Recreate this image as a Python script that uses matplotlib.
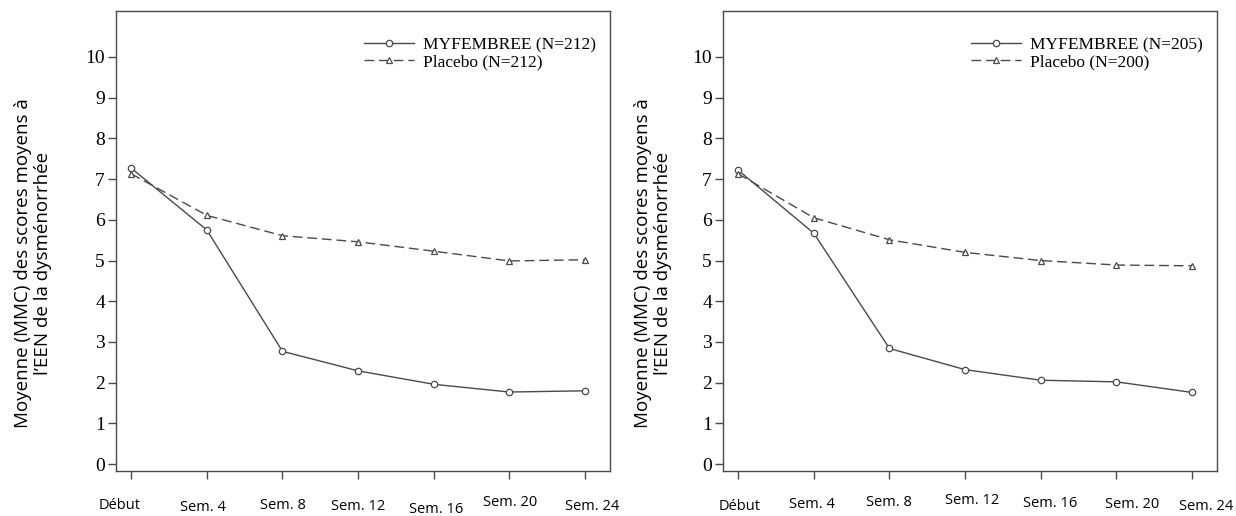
import numpy as np
import matplotlib
matplotlib.use("Agg")
import matplotlib.pyplot as plt
from matplotlib.transforms import offset_copy

# ─────────────────────────────────────────────
# Data
# ─────────────────────────────────────────────
visits = ["Début", "Sem. 4", "Sem. 8", "Sem. 12", "Sem. 16", "Sem. 20", "Sem. 24"]

left_myf = [7.27, 5.75, 2.77, 2.29, 1.96, 1.77, 1.80]
left_pbo = [7.13, 6.11, 5.61, 5.46, 5.23, 4.99, 5.02]
left_labels = ["MYFEMBREE (N=212)", "Placebo (N=212)"]

right_myf = [7.22, 5.67, 2.84, 2.32, 2.06, 2.02, 1.76]
right_pbo = [7.13, 6.05, 5.51, 5.20, 5.00, 4.89, 4.87]
right_labels = ["MYFEMBREE (N=205)", "Placebo (N=200)"]

ylabel = "Moyenne (MMC) des scores moyens à\nl\u2019EEN de la dysménorrhée"

# per-label nudges of the x tick texts (px, dy positive = lower), as in the scan
left_dx = [-12, -4, 0, 0, 2, 1, 7]
left_dy = [0, 2, 0, 1, 4, -3, 1]
right_dx = [1, -2, -1, 7, 9, 16, 14]
right_dy = [1, -1, -3, -5, -2, -1, 1]

LINE = "#4a4a4a"
SERIF = "Liberation Serif"
SANS = "Open Sans"


def draw_panel(fig, rect, myf, pbo, labels, dx, dy, ylab_x):
    ax = fig.add_axes(rect)
    x = np.arange(len(visits))
    ax.plot(x, myf, color=LINE, lw=1.0, marker="o", ms=4.6,
            mfc="white", mec=LINE, mew=0.9, label=labels[0])
    ax.plot(x, pbo, color=LINE, lw=1.0, ls=(0, (7, 3.5)), marker="^", ms=4.6,
            mfc="white", mec=LINE, mew=0.9, label=labels[1])

    ax.set_xlim(-0.2, 6.33)
    ax.set_ylim(-0.17, 11.13)
    ax.set_yticks(range(0, 11))
    ax.set_yticklabels([str(v) for v in range(0, 11)], fontfamily=SERIF,
                       fontsize=14)
    ax.set_xticks(x)
    ax.set_xticklabels([])
    ax.tick_params(axis="y", length=6, width=1.0, color=LINE, pad=2)
    ax.tick_params(axis="x", length=6, width=1.0, color=LINE)
    for s in ax.spines.values():
        s.set_color(LINE)
        s.set_linewidth(1.0)

    # x tick texts placed below the ticks with the small nudges
    for i, lab in enumerate(visits):
        tr = offset_copy(ax.get_xaxis_transform(), fig=fig,
                         x=dx[i], y=-34 - dy[i], units="dots")
        ax.text(i, 0, lab, transform=tr, ha="center", va="center",
                fontfamily=SANS, fontsize=10.5)

    ax.legend(loc="upper right", bbox_to_anchor=(0.985, 0.958),
              frameon=False, prop={"family": SERIF, "size": 12.5},
              handlelength=2.9, handletextpad=0.5, labelspacing=0.05,
              borderaxespad=0.0)

    fig.text(ylab_x, 0.49, ylabel, rotation=90, ha="center", va="center",
             fontfamily=SANS, fontsize=13.5, linespacing=1.15)
    return ax


fig = plt.figure(figsize=(12.36, 5.16), dpi=100)
draw_panel(fig, [0.0939, 0.0872, 0.3996, 0.8915], left_myf, left_pbo,
           left_labels, left_dx, left_dy, 33 / 1236)
draw_panel(fig, [0.585, 0.0872, 0.3996, 0.8915], right_myf, right_pbo,
           right_labels, right_dx, right_dy, 653 / 1236)

fig.savefig("out.png", dpi=100)
